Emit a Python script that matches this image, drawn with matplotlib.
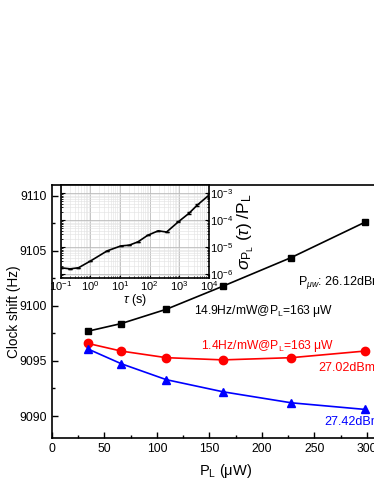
import matplotlib
matplotlib.use("Agg")
import matplotlib.pyplot as plt
import numpy as np
from matplotlib.ticker import LogLocator, MultipleLocator, NullFormatter

plt.rcParams['font.family'] = ['Liberation Sans', 'DejaVu Sans']
plt.rcParams['mathtext.fontset'] = 'custom'
plt.rcParams['mathtext.rm'] = 'Liberation Sans'
plt.rcParams['mathtext.it'] = 'Liberation Sans:italic'
plt.rcParams['mathtext.sf'] = 'Liberation Sans'

# --- main data: clock shift vs laser power ---
p_laser = [34, 66, 109, 163, 228, 298]
shift_2612 = [9097.7, 9098.4, 9099.7, 9101.8, 9104.4, 9107.6]
shift_2702 = [9096.6, 9095.9, 9095.3, 9095.1, 9095.3, 9095.9]
shift_2742 = [9096.1, 9094.75, 9093.3, 9092.2, 9091.2, 9090.6]

# --- inset data: relative power stability ---
tau = [0.1, 0.21, 0.4, 1.0, 3.7, 10.7, 20.4, 40, 87, 195, 370, 930, 2100, 4000, 10000]
sigma = [1.7e-6, 1.55e-6, 1.7e-6, 3.0e-6, 7.2e-6, 1.1e-5, 1.17e-5, 1.55e-5,
         2.75e-5, 4.0e-5, 3.6e-5, 8.7e-5, 1.78e-4, 3.6e-4, 8.5e-4]
sigma_err = [0, 0, 0, 0, 0, 0, 0, 0, 0, 0, 0, 5e-6, 1.5e-5, 4e-5, 2e-4]

fig = plt.figure(figsize=(3.74, 4.84), dpi=100)

#===========================================================
# --- main axes ---
#===========================================================
ax = fig.add_axes([0.139, 0.095, 0.926, 0.523])
ax.plot(p_laser, shift_2612, color='black', marker='s', ms=5, lw=1.2)
ax.plot(p_laser, shift_2702, color='red', marker='o', ms=6, lw=1.2)
ax.plot(p_laser, shift_2742, color='blue', marker='^', ms=6, lw=1.2)

ax.set_xlim(0, 330)
ax.set_ylim(9088, 9111)
ax.xaxis.set_major_locator(MultipleLocator(50))
ax.xaxis.set_minor_locator(MultipleLocator(25))
ax.yaxis.set_major_locator(MultipleLocator(5))
ax.yaxis.set_minor_locator(MultipleLocator(2.5))
ax.tick_params(which='both', direction='in', labelsize=8.7, width=1)
ax.tick_params(which='major', length=4)
ax.tick_params(which='minor', length=2.5)
for s in ax.spines.values():
    s.set_linewidth(1.2)

ax.set_xlabel(r'P$_{\mathrm{L}}$ ($\mathrm{\mu}$W)', fontsize=10.5, labelpad=5)
ax.set_ylabel('Clock shift (Hz)', fontsize=9.8, labelpad=-1)

# annotations (right side is clipped by the figure edge, as in the original)
ax.text(0.71, 0.615, r'P$_{\mu w}$: 26.12dBm', transform=ax.transAxes, fontsize=9,
        va='center', ha='left')
ax.text(0.41, 0.50, r'14.9Hz/mW@P$_{\mathrm{L}}$=163 $\mathrm{\mu}$W', transform=ax.transAxes,
        fontsize=8.7, va='center', ha='left')
ax.text(0.43, 0.363, r'1.4Hz/mW@P$_{\mathrm{L}}$=163 $\mathrm{\mu}$W', transform=ax.transAxes,
        fontsize=8.7, va='center', ha='left', color='red')
ax.text(0.768, 0.276, '27.02dBm', transform=ax.transAxes, fontsize=9,
        va='center', ha='left', color='red')
ax.text(0.785, 0.065, '27.42dBm', transform=ax.transAxes, fontsize=9,
        va='center', ha='left', color='blue')

#===========================================================
# --- inset ---
#===========================================================
ins = fig.add_axes([0.162, 0.4256, 0.397, 0.192])
ins.errorbar(tau, sigma, yerr=sigma_err, color='black', lw=1.2, capsize=1.5, elinewidth=0.8)
ins.set_xscale('log')
ins.set_yscale('log')
ins.set_xlim(0.1, 1e4)
ins.set_ylim(10**-6.15, 10**-2.7)
ins.grid(True, which='major', color='#bbbbbb', lw=0.6)
ins.grid(True, which='minor', color='#e2e2e2', lw=0.4)
ins.xaxis.set_major_locator(LogLocator(base=10, numticks=10))
ins.xaxis.set_minor_locator(LogLocator(base=10, subs=np.arange(2, 10), numticks=10))
ins.xaxis.set_minor_formatter(NullFormatter())
ins.yaxis.set_major_locator(LogLocator(base=10, numticks=10))
ins.yaxis.set_minor_locator(LogLocator(base=10, subs=np.arange(2, 10), numticks=10))
ins.yaxis.set_minor_formatter(NullFormatter())
ins.yaxis.tick_right()
ins.yaxis.set_label_position('right')
ins.tick_params(which='both', direction='in', labelsize=8, pad=1, left=True, right=True)
ins.tick_params(which='major', length=3)
ins.tick_params(which='minor', length=1.5)
for s in ins.spines.values():
    s.set_linewidth(1.2)
ins.set_xlabel(r'$\tau$ (s)', fontsize=9, labelpad=-1)
ins.set_ylabel(r'$\sigma_{\mathrm{P_L}}$ ($\tau$) /P$_{\mathrm{L}}$', fontsize=12.5, labelpad=1)

fig.savefig('out.png', dpi=100)
